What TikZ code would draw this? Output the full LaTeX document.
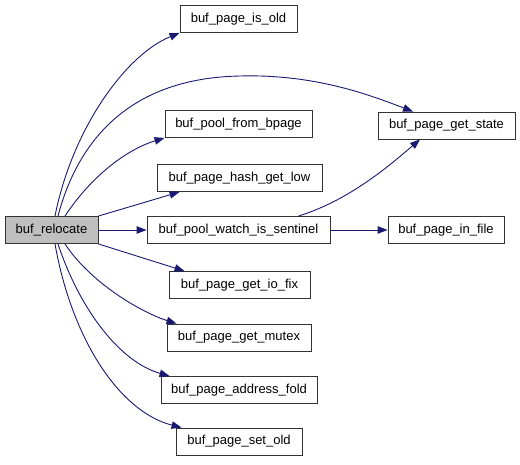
\documentclass[tikz,border=0pt]{standalone}
\usepackage{fontspec}
\setmainfont{Liberation Sans}
\usetikzlibrary{arrows.meta}
\definecolor{edgeblue}{HTML}{191970}
\definecolor{boxgray}{HTML}{BFBFBF}
\begin{document}
\begin{tikzpicture}[x=1pt,y=-1pt,
  box/.style={draw=black!80,line width=0.9pt,rectangle,inner sep=0pt,minimum height=27pt,font=\fontsize{13}{15}\selectfont},
  e/.style={draw=edgeblue,line width=0.9pt,-{Triangle[length=10pt,width=7.5pt]}}]
\useasboundingbox (0,0) rectangle (520,464);
\node[box,fill=boxgray,minimum width=93pt] (rel) at (51.5,230) {buf\_relocate};
\node[box,minimum width=117pt] (old) at (238.5,19) {buf\_page\_is\_old};
\node[box,minimum width=147pt] (fb) at (238.5,124) {buf\_pool\_from\_bpage};
\node[box,minimum width=165pt] (hash) at (239.5,178) {buf\_page\_hash\_get\_low};
\node[box,minimum width=183pt] (sent) at (238.5,230) {buf\_pool\_watch\_is\_sentinel};
\node[box,minimum width=141pt] (io) at (239.5,285) {buf\_page\_get\_io\_fix};
\node[box,minimum width=144pt] (mutex) at (239,337.5) {buf\_page\_get\_mutex};
\node[box,minimum width=156pt] (addr) at (239,390) {buf\_page\_address\_fold};
\node[box,minimum width=126pt] (setold) at (239,441.5) {buf\_page\_set\_old};
\node[box,minimum width=137pt] (gs) at (446.5,125.5) {buf\_page\_get\_state};
\node[box,minimum width=116pt] (inf) at (446,230) {buf\_page\_in\_file};
% edges from buf_relocate
\draw[e] ([xshift=3.5pt]rel.north) .. controls (72,130) and (125,55) .. (old.south west);
\draw[e] ([xshift=6.5pt]rel.north) .. controls (78,140) and (130,78) .. (240,76)
  .. controls (315,74) and (370,95) .. ([xshift=-33.5pt]gs.north);
\draw[e] ([xshift=13.5pt]rel.north) .. controls (90,178) and (125,150) .. (fb.south west);
\draw[e] (rel.north east) -- ([xshift=23pt]hash.south west);
\draw[e] (rel.east) -- (sent.west);
\draw[e] (rel.south east) -- ([xshift=16pt]io.north west);
\draw[e] ([xshift=13.5pt]rel.south) .. controls (90,282) and (140,312) .. ([xshift=10pt]mutex.north west);
\draw[e] ([xshift=6.5pt]rel.south) .. controls (80,310) and (120,362) .. ([xshift=9pt]addr.north west);
\draw[e] ([xshift=3.5pt]rel.south) .. controls (72,340) and (120,412) .. ([xshift=6pt]setold.north west);
% edges from sentinel
\draw[e] ([xshift=60pt]sent.north) .. controls (350,200) and (390,165) .. ([xshift=-26.5pt]gs.south);
\draw[e] (sent.east) -- (inf.west);
\end{tikzpicture}
\end{document}
